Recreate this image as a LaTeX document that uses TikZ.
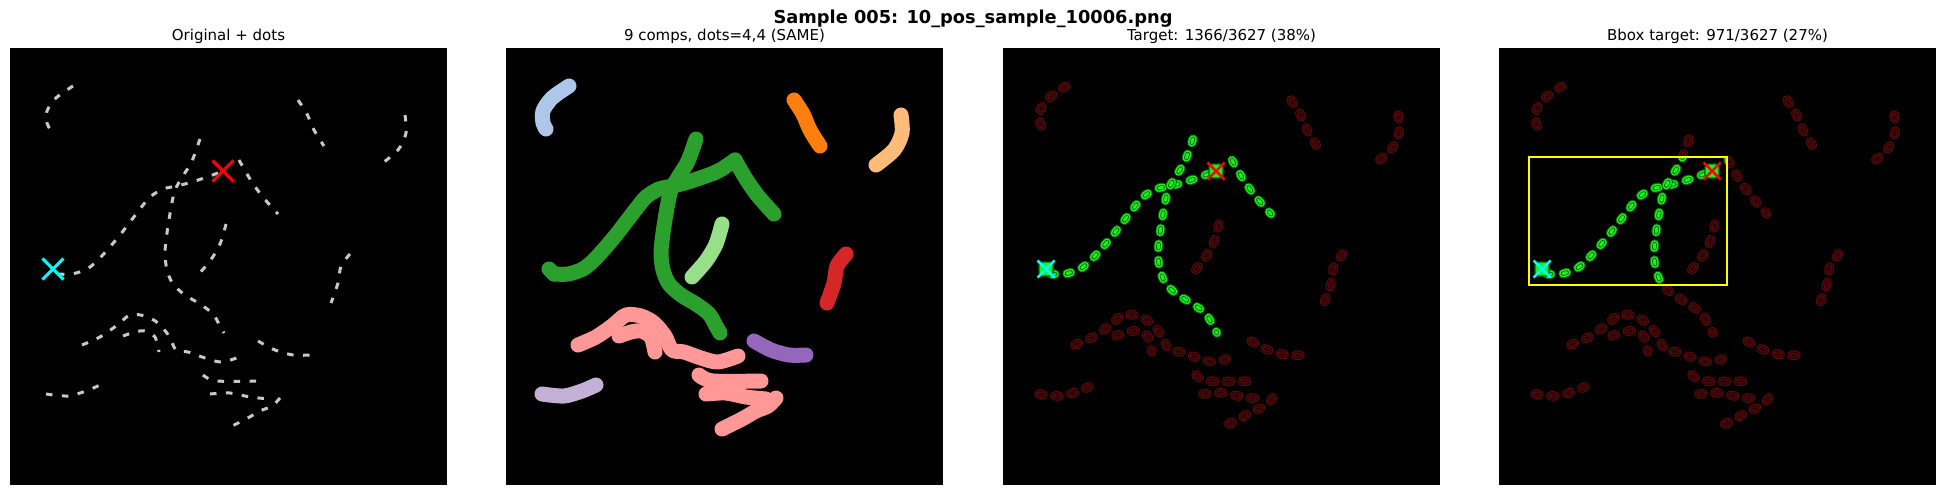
\documentclass[tikz,border=0pt]{standalone}
\usepackage{fontspec}
\setmainfont{DejaVu Sans}
\definecolor{dashgray}{HTML}{C8C8C8}
\definecolor{mkcyan}{HTML}{00FFFF}
\definecolor{mkred}{HTML}{FF0000}
\definecolor{tabblue}{HTML}{AEC7E8}
\definecolor{taborange}{HTML}{FF7F0E}
\definecolor{tablorange}{HTML}{FFBB78}
\definecolor{tabgreen}{HTML}{2CA02C}
\definecolor{tablgreen}{HTML}{98DF8A}
\definecolor{tabred}{HTML}{D62728}
\definecolor{tabpink}{HTML}{FF9896}
\definecolor{tabpurple}{HTML}{9467BD}
\definecolor{tablavender}{HTML}{C5B0D5}
\definecolor{tgtfill}{HTML}{1EF01E}
\definecolor{tgtline}{HTML}{006400}
\definecolor{dredfill}{HTML}{2C0202}
\definecolor{dredline}{HTML}{5E0C0C}
\definecolor{bboxyellow}{HTML}{FFFF00}
\tikzset{
  subtitle/.style={anchor=base, inner sep=0pt, font=\fontsize{15}{18}\selectfont},
  suptitle/.style={anchor=base, inner sep=0pt, font=\fontsize{17.8}{21}\selectfont\bfseries},
  rawdash/.style={draw=dashgray, line width=3pt, dash pattern=on 6.5pt off 9.5pt},
  comp/.style={draw=#1, line width=15pt, line cap=round, line join=round},
  blob/.style={line cap=round, line join=round, dash pattern=on 4pt off 12pt},
  xmk/.style={draw=#1, line width=3pt},
  xmks/.style={draw=#1, line width=2.5pt},
  dotblob/.style={draw=tgtline, fill=tgtfill, line width=1.2pt, rounded corners=3pt}
}
\newcommand\crvA{plot[smooth] coordinates {(63,38) (46,50) (37,63) (37,75) (40,81)}}
\newcommand\crvB{plot[smooth] coordinates {(48,226) (62,226) (77,221) (88,212) (99,200) (110,187) (120,174) (130,161) (140,149) (153,141) (167,138) (182,134) (197,129) (208,125)}}
\newcommand\crvC{plot[smooth] coordinates {(190,91) (182,113) (173,128) (165,142) (161,160) (157,185) (155,205) (157,222) (163,236) (175,247) (190,256) (203,266) (210,278) (214,285)}}
\newcommand\crvD{plot[smooth] coordinates {(229,112) (240,131) (252,148) (268,166)}}
\newcommand\crvE{plot[smooth] coordinates {(216,176) (210,196) (200,213) (186,229)}}
\newcommand\crvF{plot[smooth] coordinates {(288,52) (297,66) (304,82) (314,98)}}
\newcommand\crvG{plot[smooth] coordinates {(395,67) (396,85) (388,102) (370,117)}}
\newcommand\crvH{plot[smooth] coordinates {(340,206) (331,218) (328,235) (321,255)}}
\newcommand\crvI{plot[smooth] coordinates {(248,293) (265,302) (283,307) (300,307)}}
\newcommand\crvJa{plot[smooth] coordinates {(72,297) (90,289) (106,278) (120,267) (135,268) (148,275) (159,288) (166,302) (178,304) (195,310) (212,314) (232,308)}}
\newcommand\crvJb{plot[smooth] coordinates {(113,288) (125,284) (135,283) (145,289) (149,304)}}
\newcommand\crvJc{plot[smooth] coordinates {(193,327) (207,333) (255,333)}}
\newcommand\crvJd{plot[smooth] coordinates {(200,346) (220,345) (240,349) (260,351)}}
\newcommand\crvJe{plot[smooth] coordinates {(270,350) (262,358) (250,363) (236,371) (216,381)}}
\newcommand\crvK{plot[smooth] coordinates {(36,346) (58,348) (76,343) (90,337)}}
\newcommand\othercurves{\crvA,\crvE,\crvF,\crvG,\crvH,\crvI,\crvJa,\crvJb,\crvJc,\crvJd,\crvJe,\crvK}
\newcommand\targetcurves{\crvB,\crvC,\crvD}
\newcommand\blobpath[3]{\foreach \w/\cl in {9.5/#1,7.5/#2,4.5/#1,3/#2}{\draw[blob, line width=\w pt, draw=\cl] #3;}}
\newcommand\markers[2]{%
  \draw[#1=mkred] (213,123) +(-#2,-#2) -- +(#2,#2) +(-#2,#2) -- +(#2,-#2);
  \draw[#1=mkcyan] (43,221) +(-#2,-#2) -- +(#2,#2) +(-#2,#2) -- +(#2,-#2);}

\begin{document}
\begin{tikzpicture}[x=1pt, y=-1pt]
  \useasboundingbox (0,0) rectangle (1945,495);
  \node[suptitle] (supt) at (973,23.5) {Sample 005: 10\_pos\_sample\_10006.png};
  \node[subtitle] (title1) at (228.5,41) {Original + dots};
  \node[subtitle] (title2) at (724.5,41) {9 comps, dots=4,4 (SAME)};
  \node[subtitle] (title3) at (1221.5,41) {Target: 1366/3627 (38\%)};
  \node[subtitle] (title4) at (1717.5,41) {Bbox target: 971/3627 (27\%)};
  \foreach \px in {10,506,1003,1499}
    \fill[black] (\px,48) rectangle +(437,437);

  \begin{scope}[shift={(10,48)}]
    \foreach \crv in \othercurves {\draw[rawdash] \crv;}
    \foreach \crv in \targetcurves {\draw[rawdash] \crv;}
    \markers{xmk}{10.5}
  \end{scope}

  \begin{scope}[shift={(506,48)}]
    \draw[comp=tabblue] \crvA;
    \draw[comp=taborange] \crvF;
    \draw[comp=tablorange] \crvG;
    \draw[comp=tabgreen] \crvB;
    \draw[comp=tabgreen] \crvC;
    \draw[comp=tabgreen] \crvD;
    \draw[comp=tabgreen] (43,221) -- (48,226) (208,125) -- (216,121) -- (229,112);
    \draw[comp=tablgreen] \crvE;
    \draw[comp=tabred] \crvH;
    \draw[comp=tabpurple] \crvI;
    \foreach \crv in {\crvJa,\crvJb,\crvJc,\crvJd,\crvJe} {\draw[comp=tabpink] \crv;}
    \draw[comp=tablavender] \crvK;
  \end{scope}

  \begin{scope}[shift={(1003,48)}]
    \foreach \crv in \othercurves {\blobpath{dredline}{dredfill}{\crv}}
    \foreach \crv in \targetcurves {\blobpath{tgtline}{tgtfill}{\crv}}
    \draw[dotblob] (206,116) rectangle +(14,14);
    \draw[dotblob] (36,214) rectangle +(14,14);
    \markers{xmks}{8.5}
  \end{scope}

  \begin{scope}[shift={(1499,48)}]
    \foreach \crv in \othercurves {\blobpath{dredline}{dredfill}{\crv}}
    \foreach \crv in \targetcurves {\blobpath{dredline}{dredfill}{\crv}}
    \begin{scope}
      \clip (29.7,108.7) rectangle (228,237);
      \foreach \crv in \targetcurves {\blobpath{tgtline}{tgtfill}{\crv}}
      \draw[dotblob] (206,116) rectangle +(14,14);
      \draw[dotblob] (36,214) rectangle +(14,14);
    \end{scope}
    \draw[bboxyellow, line width=2pt] (29.7,108.7) rectangle (228,237);
    \markers{xmks}{8.5}
  \end{scope}
\end{tikzpicture}
\end{document}
